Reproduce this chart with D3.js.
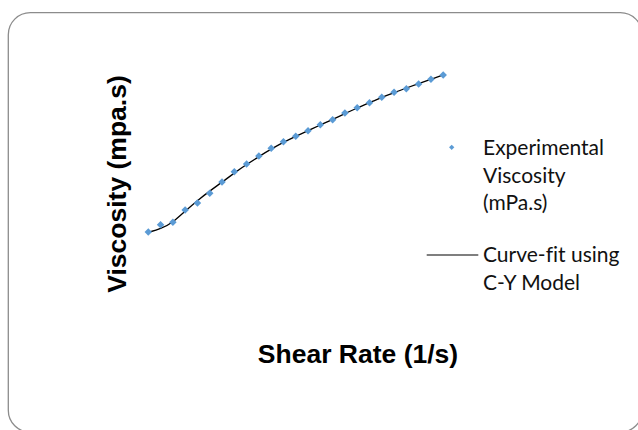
<!DOCTYPE html>
<html lang="en">

<head>
    <meta charset="utf-8">
    <title>Viscosity vs shear rate</title>
    <script src="https://cdn.jsdelivr.net/npm/d3@7/dist/d3.min.js"></script>
    <style>
        body {
            margin: 0;
            background: #fff;
        }

        .axisTitle {
            font-family: "Liberation Sans", Arial, sans-serif;
            font-weight: bold;
            font-size: 26.5px;
            fill: #000;
        }

        .legendText {
            font-family: Lato, "Open Sans", sans-serif;
            font-size: 21px;
            fill: #111;
            font-variant-ligatures: none;
        }
    </style>
</head>

<body>
    <div id="chart"></div>

    <script type="text/javascript">
        var svgWidth = 638;
        var svgHeight = 430;

        // shear rate (1/s)
        var shearRate = [10, 20, 30, 40, 50, 60, 70, 80, 90, 100, 110, 120, 130,
            140, 150, 160, 170, 180, 190, 200, 210, 220, 230, 240, 250];
        // measured viscosity
        var viscosity = [14, 17.65, 18.85, 25, 28.5, 33.35, 39, 44.15, 48, 52, 55.85,
            59.15, 61.85, 64.65, 67.65, 70.15, 73.5, 76.15, 78.65, 81.35, 83.85,
            85.65, 88, 90.35, 92.5];
        // C-Y model fit at the same shear rates
        var fitViscosity = [13.85, 15.5, 18.75, 24.5, 29.75, 34.5, 38.9, 43.5, 47.75,
            51.75, 55.5, 58.85, 61.85, 64.65, 67.5, 70.25, 73.25, 76, 78.75, 81.25,
            83.75, 86, 88.25, 90.35, 92.5];

        var legendLabels = [
            ["Experimental", "Viscosity", "(mPa.s)"],
            ["Curve-fit using", "C-Y Model"]
        ];

        var svg = d3.select('#chart')
            .append('svg')
            .attr('width', svgWidth)
            .attr('height', svgHeight);

        // chart border (rounded, runs past the window edge)
        svg.append('rect')
            .attr('x', 8.3)
            .attr('y', 12.7)
            .attr('width', 634)
            .attr('height', 419.5)
            .attr('rx', 22)
            .attr('ry', 22)
            .style('fill', 'none')
            .style('stroke', '#8c8c8c')
            .style('stroke-width', 1.3);

        var xScale = d3.scaleLinear()
            .domain([0, 260])
            .range([136, 455.5]);
        var yScale = d3.scaleLinear()
            .domain([0, 100])
            .range([260, 60]);

        var fitData = shearRate.map((d, i) => [d, fitViscosity[i]]);
        var line = d3.line()
            .x(d => xScale(d[0]))
            .y(d => yScale(d[1]))
            .curve(d3.curveBasis);

        svg.append('path')
            .attr('d', line(fitData))
            .style('fill', 'none')
            .style('stroke', '#000')
            .style('stroke-width', 1.3);

        var marker = d3.symbol().type(d3.symbolSquare).size(28);

        svg.selectAll('.point')
            .data(shearRate)
            .enter()
            .append('path')
            .attr('class', 'point')
            .attr('d', marker)
            .attr('transform', (d, i) => {
                return `translate(${xScale(d)},${yScale(viscosity[i])}) rotate(45)`;
            })
            .style('fill', '#5b9bd5');

        // axis titles
        svg.append('text')
            .attr('class', 'axisTitle')
            .attr('x', 358)
            .attr('y', 363)
            .attr('text-anchor', 'middle')
            .text('Shear Rate (1/s)');

        svg.append('text')
            .attr('class', 'axisTitle')
            .attr('transform', 'translate(126,184) rotate(-90)')
            .attr('text-anchor', 'middle')
            .text('Viscosity (mpa.s)');

        // legend
        var legend = svg.append('g');

        legend.append('path')
            .attr('d', d3.symbol().type(d3.symbolSquare).size(14))
            .attr('transform', 'translate(451.7,147.3) rotate(45)')
            .style('fill', '#5b9bd5');

        legend.append('line')
            .attr('x1', 426.7)
            .attr('x2', 478.3)
            .attr('y1', 255)
            .attr('y2', 255)
            .style('stroke', '#000')
            .style('stroke-width', 1.2);

        var legendTop = [155, 262];
        legendLabels.forEach((lines, k) => {
            legend.append('text')
                .attr('class', 'legendText')
                .attr('x', 483)
                .attr('y', legendTop[k])
                .selectAll('tspan')
                .data(lines)
                .enter()
                .append('tspan')
                .attr('x', 483)
                .attr('dy', (d, i) => i === 0 ? 0 : 27.5)
                .text(d => d);
        });
    </script>
</body>

</html>
